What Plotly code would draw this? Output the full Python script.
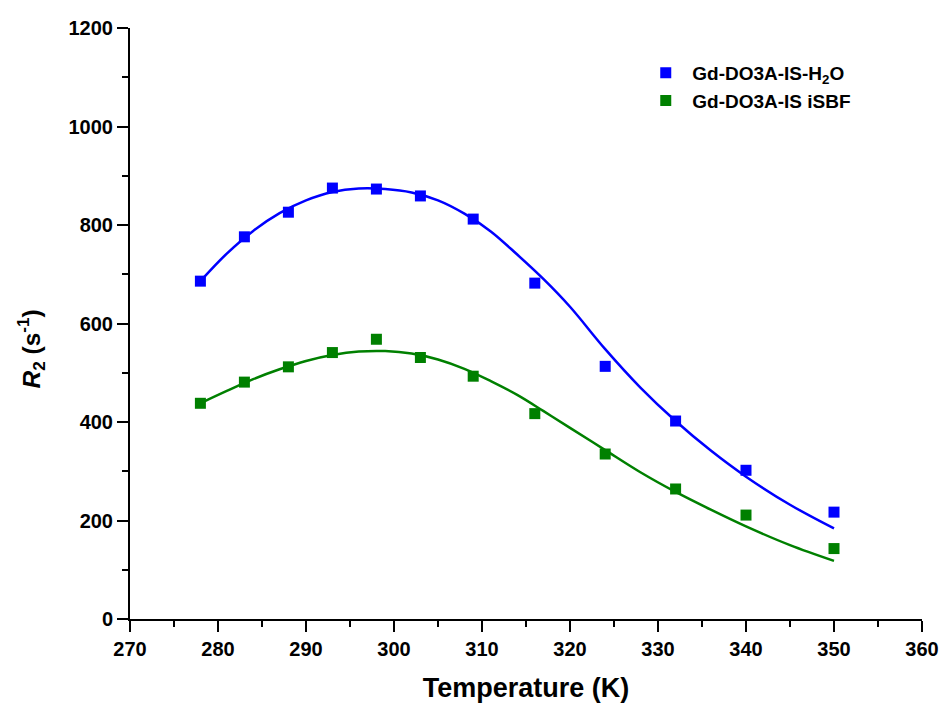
import plotly.graph_objects as go

# Measured relaxation rates
temperature = [278, 283, 288, 293, 298, 303, 309, 316, 324, 332, 340, 350]
r2_h2o = [686, 776, 826, 875, 873, 859, 812, 682, 513, 402, 302, 217]
r2_isbf = [438, 481, 512, 541, 568, 531, 493, 417, 335, 264, 211, 143]

# Fitted curves
fit_temperature = [278, 281, 284, 287, 290, 293, 296, 299, 302, 305, 308, 311,
                   314, 317, 320, 324, 328, 332, 336, 340, 345, 350]
fit_h2o = [686, 742, 788, 824, 850, 867, 874, 873, 866, 850, 823, 787,
           740, 690, 634, 548, 470, 402, 342, 289, 232, 184]
fit_isbf = [438, 463, 487, 507, 524, 536, 543, 544, 539, 527, 508, 483,
            455, 422, 388, 343, 298, 258, 222, 188, 150, 118]

BLUE = "#0000FF"
GREEN = "#008000"
FONT = "Liberation Sans, Arial, sans-serif"

fig = go.Figure()
fig.add_trace(go.Scatter(x=fit_temperature, y=fit_h2o, mode="lines",
                         line=dict(color=BLUE, width=2.5, shape="spline"),
                         showlegend=False, hoverinfo="skip"))
fig.add_trace(go.Scatter(x=fit_temperature, y=fit_isbf, mode="lines",
                         line=dict(color=GREEN, width=2.5, shape="spline"),
                         showlegend=False, hoverinfo="skip"))
fig.add_trace(go.Scatter(x=temperature, y=r2_h2o, mode="markers",
                         name="Gd-DO3A-IS-H<sub>2</sub>O",
                         marker=dict(symbol="square", size=11, color=BLUE)))
fig.add_trace(go.Scatter(x=temperature, y=r2_isbf, mode="markers",
                         name="Gd-DO3A-IS iSBF",
                         marker=dict(symbol="square", size=11, color=GREEN)))

axis_common = dict(
    showline=True, linecolor="black", linewidth=2,
    ticks="outside", ticklen=11, tickwidth=2, tickcolor="black",
    showgrid=False, zeroline=False, mirror=False,
    automargin=False, ticklabeloverflow="allow",
    tickfont=dict(family=FONT, size=20, color="black", weight="bold"),
)

fig.update_xaxes(range=[270, 360], dtick=10, tick0=270,
                 minor=dict(ticks="outside", ticklen=6, tickwidth=2,
                            tickcolor="black", dtick=5),
                 title=dict(text="Temperature (K)", standoff=19,
                            font=dict(family=FONT, size=27, color="black",
                                      weight="bold")),
                 **axis_common)
fig.update_yaxes(range=[0, 1200], dtick=200, tick0=0,
                 minor=dict(ticks="outside", ticklen=6, tickwidth=2,
                            tickcolor="black", dtick=100),
                 **axis_common)

fig.add_annotation(text="<i>R</i><sub>2</sub> (s<sup>-1</sup>)",
                   xref="paper", yref="paper", x=-0.125, y=0.456,
                   xanchor="center", yanchor="middle",
                   textangle=-90, showarrow=False,
                   font=dict(family=FONT, size=24.5, color="black",
                             weight="bold"))

fig.update_layout(
    width=943, height=705,
    margin=dict(l=130, r=21, t=28, b=86),
    paper_bgcolor="white", plot_bgcolor="white",
    legend=dict(x=0.643, y=0.956, xanchor="left", yanchor="top",
                bgcolor="rgba(0,0,0,0)", tracegroupgap=0, itemwidth=43,
                font=dict(family=FONT, size=19, color="black",
                          weight="bold")),
)

fig.write_html("out.html")
